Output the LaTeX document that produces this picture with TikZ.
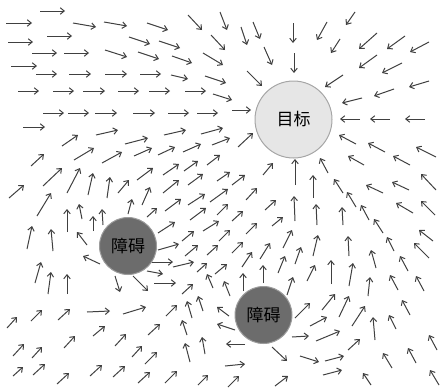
\documentclass[tikz,border=0pt]{standalone}
\usepackage{fontspec}
\newfontfamily\cjk{Noto Sans CJK SC}
\usetikzlibrary{arrows.meta}
\definecolor{vecgray}{HTML}{404040}
\definecolor{goalfill}{HTML}{E6E6E6}
\definecolor{goalrim}{HTML}{A6A6A6}
\definecolor{obstfill}{HTML}{6C6C6C}
\definecolor{obstrim}{HTML}{9C9C9C}
\begin{document}
\begin{tikzpicture}[x=1pt,y=-1pt,
  vec/.style={draw=vecgray, line width=1pt, -{Straight Barb[length=4pt,width=6.5pt]}},
  goal/.style={circle, fill=goalfill, draw=goalrim, line width=1pt, minimum size=77pt, inner sep=0pt,
    font=\cjk\fontsize{17}{17}\selectfont},
  obst/.style={circle, fill=obstfill, draw=obstrim, line width=1pt, minimum size=57pt, inner sep=0pt,
    font=\cjk\fontsize{17}{17}\selectfont}]
\useasboundingbox (0,0) rectangle (441,388);

% field vectors: tail x/y, head x/y
\foreach \a/\b/\c/\d in {
 40/11/65/11, 6/23/32/23, 73/23/96/27, 104/22/127/26, 147/23/168/30, 188/15/202/30,
 47/36/72/36, 8/42/33/42, 129/37/150/44, 159/41/180/48, 211/35/225/50,
 32/53/57/53, 64/53/89/53, 105/50/127/57, 138/52/159/59, 172/56/192/63, 203/53/223/65,
 11/66/37/66, 36/74/57/74, 69/74/91/74, 105/74/127/74, 140/74/161/74, 171/75/188/79, 205/76/226/83,
 18/91/39/91, 53/91/74/91, 83/91/105/91, 118/91/139/91, 149/91/170/91, 185/91/206/91, 213/94/232/100,
 43/113/64/113, 68/113/89/113, 95/113/117/113, 133/113/155/113, 168/113/189/113, 197/113/218/113,
 23/127/45/127, 96/135/118/130, 164/135/186/130, 201/134/223/128,
 62/146/78/135, 125/144/148/138, 212/145/230/138,
 31/166/44/154, 74/160/94/148, 102/163/122/152, 134/156/152/148, 158/155/175/147, 183/152/201/144, 207/165/220/155,
 43/186/62/168, 67/193/80/168, 88/195/93/173, 107/198/110/177, 118/193/129/180,
 137/180/153/168, 163/175/179/164, 184/171/198/161, 217/181/230/172,
 163/193/179/180, 188/185/203/174, 9/198/24/185,
 220/12/227/30, 241/27/247/45, 253/22/260/39, 293/23/293/43, 327/22/317/40, 355/12/346/25,
 264/47/272/65, 294/53/294/73, 340/39/331/53, 377/33/359/49, 405/36/387/49, 429/42/410/52,
 377/55/359/68, 402/63/382/73, 247/71/262/86, 343/75/325/87, 429/81/409/87, 394/89/374/96,
 362/98/342/103, 232/110/251/110, 360/119/340/119, 390/119/370/119, 425/119/405/119,
 356/144/339/135, 385/152/368/143, 436/157/416/147, 364/165/348/156, 410/165/393/156,
 238/147/253/133, 263/175/273/163, 295/185/295/159, 328/173/320/158, 232/185/245/175,
 313/198/313/175, 343/193/334/179, 383/193/366/185, 409/190/392/182, 436/190/421/174,
 37/216/51/193, 142/205/150/187, 188/205/205/194, 210/202/228/189,
 27/249/32/226, 53/251/51/229, 67/232/67/209, 82/219/79/204, 93/231/93/216, 103/225/102/209,
 87/245/77/232, 100/264/83/256, 128/214/132/199, 147/217/157/208, 165/211/181/199, 190/220/206/208,
 158/233/175/222, 182/241/194/231, 203/231/219/221, 158/250/179/244, 185/256/198/245, 207/255/218/245,
 152/262/173/262, 173/267/194/262, 147/271/163/274, 197/272/207/263, 215/274/227/264,
 115/276/120/292, 133/276/148/291, 154/283/176/283, 182/294/193/284, 213/288/207/274, 230/296/224/281,
 35/283/41/262, 48/294/51/272, 67/294/67/274, 87/312/110/311, 123/314/146/307,
 7/328/17/317, 31/321/42/310, 58/320/70/309, 166/316/177/305, 192/318/187/301, 203/311/198/296,
 13/356/24/344, 32/358/42/347, 64/348/75/336, 93/336/105/326, 148/335/160/324, 187/335/182/320,
 205/354/202/337, 13/376/23/367, 33/375/45/364, 57/384/69/373, 90/376/102/365,
 115/346/126/334, 132/357/142/346, 145/364/157/352, 190/362/185/343,
 113/377/125/366, 138/383/150/372, 165/383/177/371, 198/385/208/375,
 229/316/217/307, 235/330/217/324, 245/344/226/344, 225/366/245/364, 228/387/239/376,
 246/200/257/188, 295/221/294/196, 317/225/316/204, 343/225/342/207, 369/220/361/205,
 413/213/396/203, 435/215/421/201, 356/207/347/192, 265/210/276/200, 217/215/228/204,
 232/221/243/211, 272/226/283/217, 219/241/230/230, 246/234/257/223, 283/248/292/230,
 313/256/318/235, 232/253/243/242, 260/259/270/243, 295/264/301/247, 242/267/252/252,
 278/273/285/256, 331/284/331/260, 263/283/263/265, 307/281/315/265, 243/291/243/273,
 287/295/293/277, 322/310/335/294, 295/318/310/303, 310/326/327/317, 292/337/309/336,
 316/341/340/331, 272/347/287/361, 300/356/319/362, 325/361/344/356, 323/375/342/370,
 275/386/288/376,
 383/233/374/219, 349/256/348/236, 394/251/387/237, 429/258/414/243, 433/241/419/230,
 376/268/371/250, 408/271/400/256, 349/286/353/263, 368/296/370/277, 398/290/390/275,
 424/291/416/276, 339/317/349/296, 352/326/365/306, 375/340/373/317, 396/329/389/315,
 410/315/402/300, 348/350/360/339, 437/350/429/335, 392/368/383/353, 416/363/408/348,
 371/385/363/373, 439/385/430/370}
  \draw[vec] (\a,\b) -- (\c,\d);

% goal and obstacles
\node[goal] (target) at (293.5,119.5) {目标};
\node[obst] (obsA) at (128,246) {障碍};
\node[obst] (obsB) at (263.5,315) {障碍};
\end{tikzpicture}
\end{document}
